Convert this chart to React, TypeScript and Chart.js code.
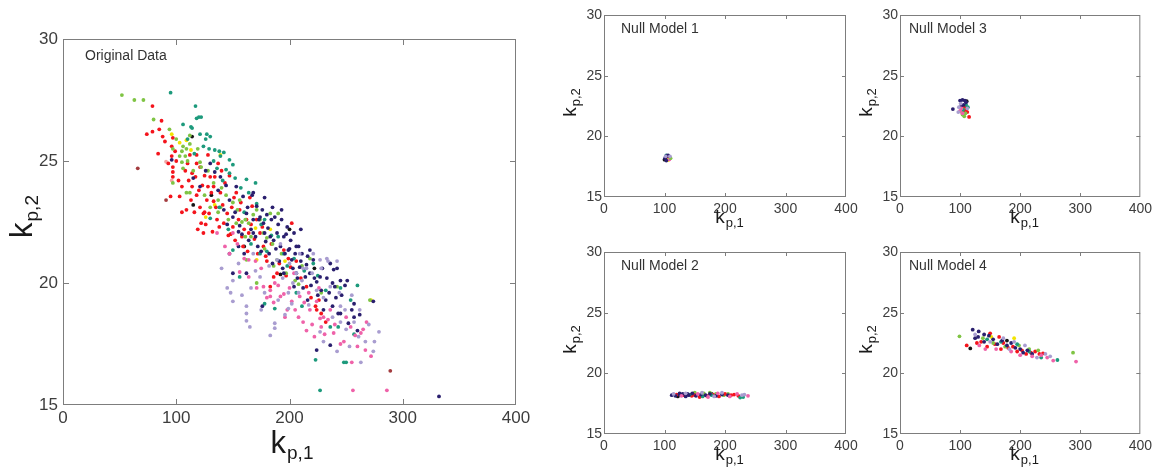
import React, { useEffect, useRef } from "react";
import { Chart, registerables } from "chart.js";

Chart.register(...registerables);

const FONT = '"Liberation Sans", Arial, Helvetica, sans-serif';

// ---- shared axes ----
const X_MIN = 0;
const X_MAX = 400;
const X_STEP = 100;
const Y_MIN = 15;
const Y_MAX = 30;
const Y_STEP = 5;
const X_TITLE = ["k", "p,1"];
const Y_TITLE = ["k", "p,2"];

// ---- colours of the groups ----
const C_RED = "#f4141c";
const C_NAVY = "#2a1f6e";
const C_TEAL = "#1d9a7c";
const C_LIME = "#7fc444";
const C_YELLOW = "#f2e400";
const C_BLACK = "#151515";
const C_PINK = "#ef62a9";
const C_LAV = "#a99dd0";
const C_DARKRED = "#a33c3f";
const C_SALMON = "#f3a6a4";

// ---- Original Data ----
const origLavender = [
  [145, 19.8], [150, 20.1], [150, 19.25], [162, 19.05], [162, 18.75], [162, 18.45], [183, 17.85], [187, 18.35],
  [187, 18.15], [196, 18.7], [202, 19.15], [206, 20.4], [211, 20.1], [215, 20.6], [220, 20.4], [227, 20.95],
  [228, 20.6], [236, 19.85], [234, 20.9], [242, 20.9], [245, 19.05], [249, 18.9], [245, 18.4], [257, 18.4],
  [261, 17.8], [267, 17.6], [274, 17.2], [279, 18.0], [263, 16.75], [242, 17.2], [227, 18.0], [199, 18.95],
  [209, 21.2], [221, 21.2], [174, 20.25], [168, 21.2], [189, 20.95],
  [140, 20.6], [148, 19.6], [155, 20.8], [158, 19.5], [166, 19.8], [170, 20.5], [178, 19.6], [182, 20.7],
  [190, 19.3], [194, 20.2], [199, 19.6], [203, 20.0], [208, 19.6], [212, 20.6], [217, 19.1], [224, 19.7],
  [230, 19.4], [233, 21.0], [238, 18.6], [244, 19.6], [250, 18.1], [255, 19.5], [262, 18.9], [270, 18.3],
  [275, 17.6], [253, 17.4], [230, 17.6], [175, 18.9], [165, 18.2], [192, 21.6], [200, 20.8],
];
const origPink = [
  [164, 20.25], [171, 19.8], [177, 19.85], [183, 19.45], [187, 20.0], [192, 19.45], [198, 18.9], [202, 19.25],
  [204, 20.4], [209, 19.45], [212, 18.4], [215, 18.05], [218, 18.9], [224, 19.25], [227, 18.55], [228, 18.2],
  [230, 18.6], [234, 18.5], [239, 17.95], [248, 17.6], [254, 18.2], [258, 17.85], [263, 17.95], [267, 17.25],
  [268, 18.4], [255, 16.75], [256, 15.6], [286, 15.6], [164, 20.95], [150, 22.05], [147, 21.2], [183, 19.7],
  [195, 19.55], [136, 22.05], [156, 20.45],
  [170, 20.9], [175, 20.6], [180, 19.4], [190, 19.9], [196, 18.6], [200, 19.8], [205, 18.9], [208, 18.6],
  [213, 19.2], [217, 19.6], [220, 18.3], [222, 17.8], [226, 19.8], [231, 17.9], [236, 18.9], [240, 18.3],
  [245, 17.5], [250, 18.6], [260, 17.4], [265, 18.1], [272, 17.0], [160, 21.0], [154, 21.6], [143, 21.5],
  [186, 19.2],
];
const origNavy = [
  [96, 25.05], [121, 23.95], [130, 24.9], [134, 24.55], [139, 24.35], [144, 24.0], [147, 23.4], [150, 22.7],
  [153, 23.95], [155, 22.1], [156, 22.35], [159, 23.55], [162, 22.85], [164, 21.75], [167, 23.6], [168, 23.7],
  [168, 22.6], [171, 23.15], [173, 22.6], [174, 22.7], [176, 23.0], [177, 22.45], [178, 22.05], [180, 22.8],
  [181, 22.25], [183, 21.9], [184, 22.6], [186, 21.75], [187, 22.7], [189, 22.05], [190, 22.4], [192, 21.5],
  [193, 22.6], [195, 21.9], [196, 21.2], [198, 22.3], [199, 21.35], [201, 21.75], [202, 20.95], [204, 22.05],
  [205, 21.2], [206, 20.4], [208, 21.5], [209, 20.65], [211, 21.2], [214, 20.25], [215, 20.75], [218, 20.4],
  [221, 20.95], [224, 20.05], [227, 20.25], [228, 19.7], [232, 19.3], [236, 20.8], [239, 20.55], [240, 19.85],
  [242, 20.6], [245, 20.1], [245, 18.75], [251, 20.1], [252, 18.35], [257, 19.15], [257, 18.6], [260, 18.05],
  [274, 19.25], [332, 15.35], [224, 17.25], [236, 17.45], [150, 20.4], [162, 20.4], [168, 22.05], [155, 21.5],
  [147, 21.2], [176, 19.05], [195, 20.4], [204, 19.85], [238, 19.05], [243, 18.75], [206, 21.5], [218, 21.35],
  [115, 24.3], [126, 24.6], [137, 23.8], [142, 23.0], [145, 22.4], [152, 22.9], [158, 22.0], [160, 21.2],
  [163, 23.1], [166, 22.2], [170, 21.9], [172, 21.5], [175, 21.3], [179, 21.7], [182, 21.2], [185, 20.8],
  [188, 21.4], [191, 20.9], [194, 20.6], [197, 22.0], [200, 21.4], [203, 20.6], [207, 20.2], [210, 20.9],
  [212, 19.8], [216, 21.1], [219, 19.9], [222, 20.2], [225, 19.5], [229, 20.6], [233, 20.2], [235, 19.6],
  [238, 20.0], [241, 19.4], [246, 19.5], [249, 19.9], [255, 18.9], [262, 18.7], [216, 19.3], [230, 18.9],
  [210, 22.2], [185, 23.1], [178, 23.5], [193, 23.0],
];
const origTeal = [
  [95, 27.8], [117, 27.25], [118, 26.75], [120, 26.8], [122, 26.8], [106, 26.5], [113, 26.4], [114, 26.35],
  [127, 26.1], [130, 26.0], [124, 25.6], [129, 25.5], [134, 25.45], [138, 25.4], [142, 25.35], [139, 25.2],
  [147, 25.05], [150, 24.85], [144, 24.65], [147, 24.5], [162, 24.25], [170, 24.1], [164, 23.7], [171, 23.25],
  [178, 22.6], [184, 21.95], [195, 21.2], [130, 22.65], [150, 21.35], [156, 20.25], [178, 19.15], [187, 18.95],
  [211, 19.05], [227, 15.6], [260, 19.9], [254, 19.3], [236, 18.2], [223, 16.85], [248, 16.75], [250, 16.75],
  [204, 21.0], [221, 20.8], [174, 21.2],
  [110, 25.9], [116, 25.3], [121, 26.1], [126, 25.9], [133, 25.0], [136, 24.7], [141, 24.2], [152, 24.3],
  [157, 23.9], [160, 22.9], [166, 21.6], [175, 22.4], [180, 21.3], [190, 21.9], [198, 20.7], [206, 19.6],
  [213, 20.5], [225, 20.3], [232, 19.7], [245, 19.8], [257, 17.9], [243, 18.2], [146, 22.2], [138, 23.1],
];
const origLime = [
  [52, 27.7], [63, 27.5], [71, 27.5], [80, 26.7], [94, 26.3], [97, 25.5], [105, 25.4], [106, 25.6],
  [109, 25.5], [108, 25.2], [105, 24.95], [106, 24.7], [112, 26.05], [112, 25.7], [121, 24.95], [122, 24.75],
  [97, 24.1], [109, 23.7], [112, 23.7], [137, 23.4], [139, 23.1], [144, 23.6], [150, 23.3], [156, 23.4],
  [161, 22.6], [164, 22.45], [168, 22.8], [171, 23.0], [177, 22.05], [180, 21.85], [183, 22.85], [190, 22.85],
  [186, 20.7], [189, 20.95], [205, 20.1], [208, 19.95], [162, 20.95], [171, 20.0], [153, 22.45], [242, 19.85],
  [271, 19.3], [161, 21.9], [137, 22.9],
  [100, 25.9], [103, 25.2], [110, 25.0], [115, 24.6], [119, 25.5], [125, 23.6], [128, 24.6], [133, 24.1],
  [140, 23.9], [146, 22.6], [154, 23.0], [158, 22.5], [166, 21.9], [174, 22.6], [178, 21.4], [185, 21.6],
  [193, 21.2], [197, 20.4], [211, 20.7], [218, 21.0], [228, 19.6], [130, 23.1],
];
const origRed = [
  [79, 27.25], [87, 26.65], [74, 26.1], [79, 26.2], [85, 26.3], [84, 25.3], [97, 25.95], [96, 25.6],
  [96, 25.2], [97, 24.75], [97, 24.55], [97, 24.35], [95, 23.55], [105, 23.95], [103, 23.55], [109, 23.0],
  [110, 24.9], [112, 25.25], [114, 24.5], [114, 23.95], [117, 24.35], [118, 25.25], [118, 24.9], [118, 23.6],
  [121, 24.75], [121, 23.1], [122, 22.45], [124, 22.85], [124, 22.05], [125, 24.4], [125, 22.9], [127, 23.4],
  [128, 25.25], [128, 23.95], [129, 22.85], [130, 24.35], [131, 23.7], [133, 23.95], [133, 23.35], [134, 24.35],
  [135, 23.1], [136, 22.6], [137, 24.9], [139, 23.7], [142, 22.45], [145, 22.85], [146, 21.95], [147, 24.4],
  [149, 23.1], [150, 22.3], [152, 21.75], [153, 23.7], [156, 23.0], [158, 21.9], [159, 21.5], [162, 22.6],
  [164, 22.05], [165, 23.5], [167, 23.15], [171, 22.6], [174, 22.05], [177, 21.5], [180, 20.9], [183, 19.85],
  [186, 20.25], [189, 20.4], [195, 21.35], [202, 22.45], [201, 20.65], [206, 20.9], [215, 19.85], [223, 19.05],
  [224, 18.9], [228, 18.75],
  [100, 25.0], [102, 24.2], [108, 24.6], [113, 23.4], [116, 22.9], [120, 23.8], [126, 22.4], [132, 22.1],
  [138, 22.3], [141, 23.2], [143, 24.1], [148, 22.0], [151, 23.5], [155, 22.6], [157, 23.3], [160, 22.2],
  [163, 21.3], [166, 22.4], [169, 21.8], [172, 21.2], [176, 22.3], [179, 21.1], [184, 21.6], [191, 20.8],
  [197, 20.3], [199, 21.0], [210, 20.2], [219, 19.4], [226, 19.3], [232, 18.4], [90, 25.8], [93, 24.9],
  [88, 26.0], [99, 25.4], [111, 24.2], [123, 24.0], [140, 24.6], [119, 22.2], [105, 22.9],
];
const origYellow = [[96, 26.1], [103, 25.75], [109, 25.85], [139, 25.25], [134, 23.2], [170, 22.25], [183, 22.2], [171, 20.95], [272, 19.3], [113, 25.45], [126, 22.7], [148, 22.0], [196, 20.9]];
const origBlack = [[114, 26.0], [115, 23.2], [192, 20.35], [131, 23.6], [160, 21.5], [200, 22.2], [222, 20.6]];
const origDarkRed = [[66, 24.7], [91, 23.4], [289, 16.4]];
const origSalmon = [[91, 24.97], [96, 24.2]];

// ---- Null Model 1 ----
const nm1Navy = [[101, 18.2], [103, 18.0], [106, 18.42], [104, 18.4]];
const nm1Black = [[100, 18.08]];
const nm1Red = [[105, 18.25], [107, 18.2], [104, 18.3], [106, 18.15]];
const nm1Lav = [[109, 18.35], [102, 18.35]];
const nm1Lime = [[110, 18.2]];
const nm1Teal = [[103, 18.42]];
const nm1Pink = [[108, 18.1]];
const nm1Yellow = [[106, 18.05]];

// ---- Null Model 2 ----
const nm2Navy = [[112, 18.2], [118, 18.15], [125, 18.25], [130, 18.3], [135, 18.1], [140, 18.2], [146, 18.35], [152, 18.15], [160, 18.25], [168, 18.2], [175, 18.3], [185, 18.15], [195, 18.25], [205, 18.2], [125, 18.35], [138, 18.3]];
const nm2Red = [[120, 18.25], [132, 18.2], [145, 18.15], [150, 18.2], [158, 18.05], [170, 18.15], [180, 18.25], [190, 18.1], [200, 18.3], [210, 18.2], [215, 18.25], [222, 18.15]];
const nm2Lime = [[150, 18.4], [165, 18.35], [175, 18.4], [185, 18.3], [198, 18.2], [205, 18.3]];
const nm2Teal = [[142, 18.25], [163, 18.1], [178, 18.2], [225, 18.0], [230, 18.05]];
const nm2Pink = [[128, 18.15], [155, 18.3], [172, 18.05], [188, 18.35], [208, 18.1], [220, 18.3], [238, 18.15]];
const nm2Lav = [[115, 18.3], [135, 18.35], [162, 18.4], [182, 18.1], [195, 18.4], [228, 18.2], [232, 18.25]];
const nm2Black = [[122, 18.1], [178, 18.3]];
const nm2Yellow = [[148, 18.3]];

// ---- Null Model 3 ----
const nm3Navy = [[88, 22.25], [100, 22.95], [104, 23.0], [108, 22.95], [110, 22.8], [106, 22.6], [102, 22.5]];
const nm3Red = [[108, 22.45], [110, 22.2], [112, 22.0], [115, 21.6], [106, 22.05]];
const nm3Lime = [[104, 21.8], [107, 21.65], [109, 21.9], [103, 22.0]];
const nm3Pink = [[100, 22.1], [102, 22.3], [104, 21.9]];
const nm3Lav = [[98, 22.4], [101, 22.7], [112, 22.3], [97, 22.0]];
const nm3Teal = [[110, 22.6], [113, 22.4], [105, 22.2]];
const nm3Yellow = [[107, 22.35]];
const nm3Black = [[111, 22.9]];

// ---- Null Model 4 ----
const nm4Navy = [[121, 23.6], [131, 23.45], [130, 23.0], [140, 22.6], [148, 23.1], [155, 22.8], [162, 22.4], [170, 22.7], [178, 22.3], [185, 22.5], [192, 22.1], [200, 22.0], [205, 21.7], [212, 21.9], [220, 21.6], [140, 23.2], [125, 22.9]];
const nm4Red = [[111, 22.3], [150, 23.3], [158, 22.4], [135, 22.6], [145, 22.2], [165, 23.0], [172, 22.5], [180, 22.1], [188, 22.2], [195, 21.8], [203, 21.9], [210, 21.6], [218, 21.7], [225, 21.8], [232, 21.6], [238, 21.65], [168, 22.0], [128, 22.5]];
const nm4Lime = [[99, 23.05], [138, 22.9], [155, 22.5], [175, 22.2], [198, 22.3], [215, 22.0], [230, 21.9], [288, 21.7]];
const nm4Pink = [[255, 21.05], [293, 20.97], [245, 21.3], [235, 21.5], [220, 21.4], [200, 21.5], [185, 21.8], [160, 22.0], [142, 22.0], [132, 22.3]];
const nm4Lav = [[125, 23.2], [150, 22.6], [172, 22.9], [190, 22.6], [208, 22.3], [228, 21.3], [242, 21.6], [250, 21.4], [182, 22.0]];
const nm4Teal = [[262, 21.1], [145, 22.8], [168, 22.6], [195, 22.4], [215, 21.8], [235, 21.3]];
const nm4Black = [[117, 22.05], [178, 22.7]];
const nm4Yellow = [[152, 23.0], [190, 22.9]];

type Series = { color: string; data: number[][] };
type Spec = {
  label: string;
  canvas: { left: number; top: number; w: number; h: number };
  plot: { l: number; t: number; r: number; b: number };
  big: boolean;
  labelDx: number;
  labelDy: number;
  series: Series[];
};

const SPECS: Spec[] = [
  {
    label: "Original Data",
    canvas: { left: 0, top: 0, w: 560, h: 474 },
    plot: { l: 63, t: 39, r: 516, b: 405 },
    big: true,
    labelDx: 22,
    labelDy: 21,
    series: [
      { color: C_LAV, data: origLavender },
      { color: C_PINK, data: origPink },
      { color: C_NAVY, data: origNavy },
      { color: C_TEAL, data: origTeal },
      { color: C_LIME, data: origLime },
      { color: C_RED, data: origRed },
      { color: C_YELLOW, data: origYellow },
      { color: C_BLACK, data: origBlack },
      { color: C_DARKRED, data: origDarkRed },
      { color: C_SALMON, data: origSalmon },
    ],
  },
  {
    label: "Null Model 1",
    canvas: { left: 552, top: 0, w: 324, h: 237 },
    plot: { l: 604, t: 15, r: 846, b: 197 },
    big: false,
    labelDx: 17,
    labelDy: 18,
    series: [
      { color: C_LAV, data: nm1Lav },
      { color: C_NAVY, data: nm1Navy },
      { color: C_BLACK, data: nm1Black },
      { color: C_TEAL, data: nm1Teal },
      { color: C_LIME, data: nm1Lime },
      { color: C_PINK, data: nm1Pink },
      { color: C_YELLOW, data: nm1Yellow },
      { color: C_RED, data: nm1Red },
    ],
  },
  {
    label: "Null Model 3",
    canvas: { left: 850, top: 0, w: 306, h: 237 },
    plot: { l: 900, t: 15, r: 1142, b: 197 },
    big: false,
    labelDx: 9,
    labelDy: 18,
    series: [
      { color: C_LAV, data: nm3Lav },
      { color: C_PINK, data: nm3Pink },
      { color: C_NAVY, data: nm3Navy },
      { color: C_TEAL, data: nm3Teal },
      { color: C_LIME, data: nm3Lime },
      { color: C_RED, data: nm3Red },
      { color: C_YELLOW, data: nm3Yellow },
      { color: C_BLACK, data: nm3Black },
    ],
  },
  {
    label: "Null Model 2",
    canvas: { left: 552, top: 237, w: 324, h: 237 },
    plot: { l: 604, t: 252, r: 846, b: 434 },
    big: false,
    labelDx: 17,
    labelDy: 18,
    series: [
      { color: C_LAV, data: nm2Lav },
      { color: C_PINK, data: nm2Pink },
      { color: C_NAVY, data: nm2Navy },
      { color: C_TEAL, data: nm2Teal },
      { color: C_RED, data: nm2Red },
      { color: C_LIME, data: nm2Lime },
      { color: C_YELLOW, data: nm2Yellow },
      { color: C_BLACK, data: nm2Black },
    ],
  },
  {
    label: "Null Model 4",
    canvas: { left: 850, top: 237, w: 306, h: 237 },
    plot: { l: 900, t: 252, r: 1142, b: 434 },
    big: false,
    labelDx: 9,
    labelDy: 18,
    series: [
      { color: C_LAV, data: nm4Lav },
      { color: C_PINK, data: nm4Pink },
      { color: C_NAVY, data: nm4Navy },
      { color: C_TEAL, data: nm4Teal },
      { color: C_LIME, data: nm4Lime },
      { color: C_RED, data: nm4Red },
      { color: C_YELLOW, data: nm4Yellow },
      { color: C_BLACK, data: nm4Black },
    ],
  },
];

function drawSubText(
  ctx: CanvasRenderingContext2D,
  main: string,
  sub: string,
  cx: number,
  baseline: number,
  fMain: number,
  fSub: number,
  dy: number
) {
  ctx.font = `${fMain}px ${FONT}`;
  const w1 = ctx.measureText(main).width;
  ctx.font = `${fSub}px ${FONT}`;
  const w2 = ctx.measureText(sub).width;
  const x0 = cx - (w1 + w2) / 2;
  ctx.textAlign = "left";
  ctx.textBaseline = "alphabetic";
  ctx.font = `${fMain}px ${FONT}`;
  ctx.fillText(main, x0, baseline);
  ctx.font = `${fSub}px ${FONT}`;
  ctx.fillText(sub, x0 + w1 + 1, baseline + dy);
}

function makePlugin(spec: Spec) {
  return {
    id: "frameAndTitles",
    afterDraw(chart: any) {
      const { ctx, chartArea: a, scales } = chart;
      const big = spec.big;
      const tl = big ? 6 : 4;
      ctx.save();
      ctx.strokeStyle = "#7d7d7d";
      ctx.lineWidth = 1;
      ctx.strokeRect(a.left + 0.5, a.top + 0.5, a.right - a.left - 1, a.bottom - a.top - 1);
      ctx.beginPath();
      scales.x.ticks.forEach((t: any) => {
        if (t.value <= X_MIN || t.value >= X_MAX) return;
        const px = Math.round(scales.x.getPixelForValue(t.value)) + 0.5;
        ctx.moveTo(px, a.bottom);
        ctx.lineTo(px, a.bottom - tl);
        ctx.moveTo(px, a.top);
        ctx.lineTo(px, a.top + tl);
      });
      scales.y.ticks.forEach((t: any) => {
        if (t.value <= Y_MIN || t.value >= Y_MAX) return;
        const py = Math.round(scales.y.getPixelForValue(t.value)) + 0.5;
        ctx.moveTo(a.left, py);
        ctx.lineTo(a.left + tl, py);
        ctx.moveTo(a.right, py);
        ctx.lineTo(a.right - tl, py);
      });
      ctx.stroke();

      // panel label
      ctx.fillStyle = "#333";
      ctx.font = `14px ${FONT}`;
      ctx.textAlign = "left";
      ctx.textBaseline = "alphabetic";
      ctx.fillText(spec.label, a.left + spec.labelDx, a.top + spec.labelDy);

      // axis titles
      ctx.fillStyle = "#1a1a1a";
      const cx = (a.left + a.right) / 2;
      const cy = (a.top + a.bottom) / 2;
      if (big) {
        drawSubText(ctx, X_TITLE[0], X_TITLE[1], cx + 2, a.bottom + 48, 31, 19, 6);
        ctx.save();
        ctx.translate(a.left - 31, cy - 5);
        ctx.rotate(-Math.PI / 2);
        drawSubText(ctx, Y_TITLE[0], Y_TITLE[1], 0, 0, 31, 19, 6);
        ctx.restore();
      } else {
        drawSubText(ctx, X_TITLE[0], X_TITLE[1], cx + 4, a.bottom + 26, 19, 13, 4);
        ctx.save();
        ctx.translate(a.left - 28, cy - 3);
        ctx.rotate(-Math.PI / 2);
        drawSubText(ctx, Y_TITLE[0], Y_TITLE[1], 0, 0, 19, 13, 4);
        ctx.restore();
      }
      ctx.restore();
    },
  };
}

function Panel({ spec }: { spec: Spec }) {
  const ref = useRef<HTMLCanvasElement | null>(null);
  useEffect(() => {
    const { canvas: c, plot: p, big } = spec;
    const yw = p.l - c.left;
    const xh = c.top + c.h - p.b;
    const padTop = p.t - c.top;
    const padRight = c.left + c.w - p.r;
    const tickFont = { family: FONT, size: big ? 17 : 14 };
    const chart = new Chart(ref.current as HTMLCanvasElement, {
      type: "scatter",
      data: {
        datasets: spec.series.map((s) => ({
          data: s.data.map(([x, y]) => ({ x, y })),
          backgroundColor: s.color,
          borderWidth: 0,
          pointRadius: 1.9,
          pointHoverRadius: 1.9,
        })),
      },
      options: {
        responsive: false,
        animation: false,
        events: [],
        layout: { padding: { left: 0, top: padTop, right: padRight, bottom: 0 } },
        plugins: { legend: { display: false }, tooltip: { enabled: false } },
        scales: {
          x: {
            type: "linear",
            min: X_MIN,
            max: X_MAX,
            grid: { display: false, drawTicks: false },
            border: { display: false },
            ticks: {
              stepSize: X_STEP,
              font: tickFont,
              color: "#3d3d3d",
              padding: big ? 3 : 4,
              maxRotation: 0,
              autoSkip: false,
            },
            afterFit: (s: any) => {
              s.height = xh;
            },
          },
          y: {
            type: "linear",
            min: Y_MIN,
            max: Y_MAX,
            grid: { display: false, drawTicks: false },
            border: { display: false },
            ticks: {
              stepSize: Y_STEP,
              font: tickFont,
              color: "#3d3d3d",
              padding: big ? 5 : 2,
              autoSkip: false,
            },
            afterFit: (s: any) => {
              s.width = yw;
            },
          },
        },
      } as any,
      plugins: [makePlugin(spec)],
    });
    return () => chart.destroy();
  }, [spec]);
  const { canvas: c } = spec;
  return (
    <canvas
      ref={ref}
      width={c.w}
      height={c.h}
      style={{ position: "absolute", left: c.left, top: c.top, width: c.w, height: c.h }}
    />
  );
}

export default function App() {
  return (
    <div style={{ position: "absolute", left: 0, top: 0, width: 1156, height: 474, background: "#fff", overflow: "hidden" }}>
      {SPECS.map((s) => (
        <Panel key={s.label} spec={s} />
      ))}
    </div>
  );
}
